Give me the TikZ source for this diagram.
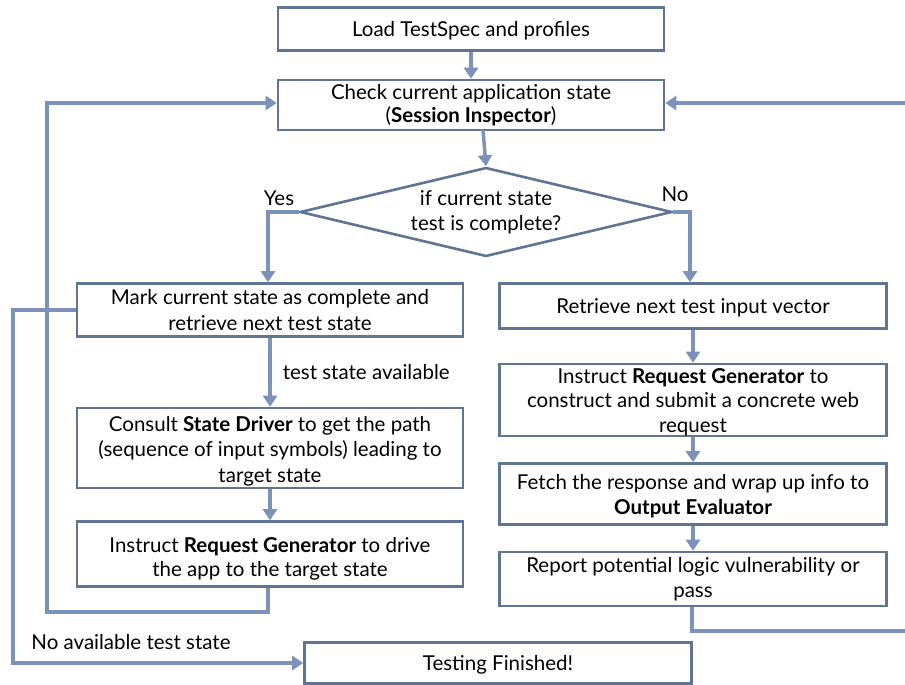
\documentclass[tikz,border=0pt]{standalone}
\usepackage{fontspec}
\setmainfont{Lato}
\usetikzlibrary{arrows.meta,shapes.geometric}
\definecolor{boxline}{RGB}{96,116,148}
\definecolor{flowline}{RGB}{124,146,186}
\tikzset{
  stepbox/.style={draw=boxline,line width=2.6pt,fill=white,align=center,inner sep=0pt,
    font=\fontsize{20.5}{25.5}\selectfont},
  steptext/.style={align=center,inner sep=0pt,font=\fontsize{20.5}{24.5}\selectfont},
  flow/.style={draw=flowline,line width=3.5pt},
  flowarrow/.style={flow,-{Triangle[width=14pt,length=11pt]}},
  lbl/.style={font=\fontsize{20.5}{24}\selectfont,inner sep=0pt}
}
\begin{document}
\begin{tikzpicture}[x=1pt,y=-1pt]
\useasboundingbox (0,0) rectangle (905,685);

% process boxes
\node[stepbox,minimum width=386,minimum height=43] (load) at (471,29) {};
\node[steptext] (loadtext) at (471,31) {Load TestSpec and profiles};
\node[stepbox,minimum width=386,minimum height=50,font=\fontsize{20.5}{23.5}\selectfont] (check) at (471,105) {Check current application state\\(\textbf{Session Inspector})};
\node[draw=boxline,line width=2.6pt,diamond,shape aspect=4.18,minimum width=372,minimum height=89,inner sep=0pt,
  align=center,font=\fontsize{20.5}{25}\selectfont] (dec) at (486,212) {if current state\\test is complete?};

\node[stepbox,minimum width=386,minimum height=53] (mark) at (270,310) {Mark current state as complete and\\retrieve next test state};
\node[stepbox,minimum width=386,minimum height=80] (consult) at (270,448) {};
\node[steptext,font=\fontsize{20.5}{25.5}\selectfont] (consulttext) at (270,451) {Consult \textbf{State Driver} to get the path\\(sequence of input symbols) leading to\\target state};
\node[stepbox,minimum width=386,minimum height=65] (drive) at (270,554) {};
\node[steptext] (drivetext) at (270,559) {Instruct \textbf{Request Generator} to drive\\the app to the target state};

\node[stepbox,minimum width=387,minimum height=45] (next) at (693,306) {};
\node[steptext] (nexttext) at (693,308) {Retrieve next test input vector};
\node[stepbox,minimum width=387,minimum height=72] (submit) at (693,400) {};
\node[steptext] (submittext) at (693,402) {Instruct \textbf{Request Generator} to\\construct and submit a concrete web\\request};
\node[stepbox,minimum width=387,minimum height=61] (fetch) at (693,494) {};
\node[steptext] (fetchtext) at (693,496) {Fetch the response and wrap up info to\\\textbf{Output Evaluator}};
\node[stepbox,minimum width=387,minimum height=54] (report) at (693,579) {Report potential logic vulnerability or\\pass};

\node[stepbox,minimum width=387,minimum height=41] (done) at (498,663) {};
\node[steptext] (donetext) at (498,665) {Testing Finished!};

% turning points of the connectors
\coordinate (yesc) at (268,212);
\coordinate (noc) at (690,212);
\coordinate (lpA) at (268,612);
\coordinate (lpB) at (47,612);
\coordinate (lpC) at (47,103);
\coordinate (exA) at (13,310);
\coordinate (exB) at (13,663);
\coordinate (rpA) at (692,631);
\coordinate (rpB) at (910,631);
\coordinate (rpC) at (910,103);

% connectors
\draw[flowarrow] (load.south) -- (check.north);
\draw[flowarrow] (483,130) -- (dec.north);
\draw[flowarrow] (dec.west) -- (yesc) -- (mark.north -| yesc);
\draw[flowarrow] (dec.east) -- (noc) -- (next.north -| noc);
\draw[flowarrow] (mark.south) -- node[lbl,right=11pt,pos=0.5] (avail) {test state available} (consult.north);
\draw[flowarrow] (consult.south) -- (drive.north);
\draw[flowarrow] (drive.south -| lpA) -- (lpA) -- (lpB) -- (lpC) -- (check.west |- lpC);
\draw[flowarrow] (mark.west) -- (exA) -- (exB) -- (done.west |- exB);
\draw[flowarrow] (next.south) -- (submit.north);
\draw[flowarrow] (submit.south) -- (fetch.north);
\draw[flowarrow] (fetch.south) -- (report.north);
\draw[flowarrow] (report.south -| rpA) -- (rpA) -- (rpB) -- (rpC) -- (check.east |- rpC);

% branch labels
\node[lbl] (yes) at (279,198) {Yes};
\node[lbl] (no) at (675,194) {No};
\node[lbl] (noavail) at (131,642) {No available test state};
\end{tikzpicture}
\end{document}
